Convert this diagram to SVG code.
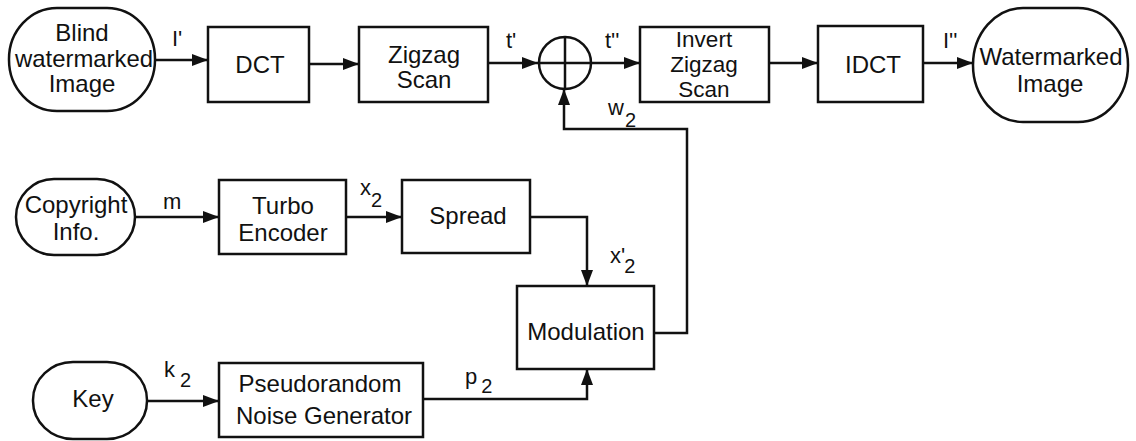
<svg xmlns="http://www.w3.org/2000/svg" width="1136" height="441" viewBox="0 0 1136 441">
<defs>
<marker id="ah" markerWidth="16" markerHeight="12" refX="16" refY="6" orient="auto" markerUnits="userSpaceOnUse">
<path d="M0,0 L16,6 L0,12 Z" fill="#111"/>
</marker>
<style>
.box{fill:#fff;stroke:#111;stroke-width:2.5}
.t{font-family:"Liberation Sans",Arial,sans-serif;font-size:24px;fill:#111;text-anchor:middle}
.tt{font-size:22.5px}
.l{font-family:"Liberation Sans",Arial,sans-serif;font-size:22px;fill:#111}
.s{font-size:20px}
.c{fill:none;stroke:#111;stroke-width:2.5}
</style>
</defs>
<rect width="1136" height="441" fill="#fff"/>
<g id="connectors">
<line class="c" x1="155" y1="60" x2="208" y2="60" marker-end="url(#ah)"/>
<line class="c" x1="309" y1="64" x2="359" y2="64" marker-end="url(#ah)"/>
<line class="c" x1="488" y1="63" x2="538" y2="63" marker-end="url(#ah)"/>
<line class="c" x1="591" y1="63" x2="640" y2="63" marker-end="url(#ah)"/>
<line class="c" x1="769" y1="63" x2="818" y2="63" marker-end="url(#ah)"/>
<line class="c" x1="923" y1="63" x2="973" y2="63" marker-end="url(#ah)"/>
<polyline class="c" points="654,333 687,333 687,129 564,129 564,89" marker-end="url(#ah)"/>
<line class="c" x1="135" y1="217" x2="219" y2="217" marker-end="url(#ah)"/>
<line class="c" x1="346" y1="217" x2="402" y2="217" marker-end="url(#ah)"/>
<polyline class="c" points="530,217 587,217 587,286" marker-end="url(#ah)"/>
<line class="c" x1="147" y1="401" x2="219" y2="401" marker-end="url(#ah)"/>
<polyline class="c" points="423,399 587,399 587,369" marker-end="url(#ah)"/>
<text class="l" x="172" y="46">I'</text>
<text class="l" x="506" y="48">t'</text>
<text class="l" x="605" y="48">t''</text>
<text class="l" x="943" y="48">I''</text>
<text class="l" x="608" y="115">w<tspan class="s" dx="1" dy="12">2</tspan></text>
<text class="l" x="163" y="209">m</text>
<text class="l" x="360" y="195">x<tspan class="s" dx="0" dy="12">2</tspan></text>
<text class="l" x="610" y="263">x'<tspan class="s" dx="-1" dy="10">2</tspan></text>
<text class="l" x="164" y="377">k<tspan class="s" dx="5" dy="10">2</tspan></text>
<text class="l" x="465" y="384">p<tspan class="s" dx="4" dy="9">2</tspan></text>
</g>
<g id="blind">
<rect class="box" x="9" y="8" width="146" height="103" rx="48" ry="51"/>
<text class="t" x="82" y="41">Blind<tspan x="84" dy="26" textLength="138" lengthAdjust="spacingAndGlyphs">watermarked</tspan><tspan x="82" dy="25">Image</tspan></text>
</g>
<g id="dct">
<rect class="box" x="208" y="27" width="101" height="75"/>
<text class="t" x="260" y="73">DCT</text>
</g>
<g id="zigzag">
<rect class="box" x="359" y="27" width="129" height="75"/>
<text class="t" x="424" y="63">Zigzag<tspan x="424" dy="25">Scan</tspan></text>
</g>
<g id="adder">
<circle class="box" cx="565" cy="63" r="26"/>
<line class="c" x1="539" y1="63" x2="591" y2="63"/>
<line class="c" x1="565" y1="37" x2="565" y2="89"/>
</g>
<g id="invert">
<rect class="box" x="640" y="27" width="129" height="75"/>
<text class="t tt" x="704" y="47">Invert<tspan x="704" dy="25">Zigzag</tspan><tspan x="704" dy="25">Scan</tspan></text>
</g>
<g id="idct">
<rect class="box" x="818" y="26" width="105" height="76"/>
<text class="t" x="873" y="73">IDCT</text>
</g>
<g id="watermarked">
<rect class="box" x="973" y="8" width="155" height="114" rx="50" ry="57"/>
<text class="t" x="1051" y="65">Watermarked<tspan x="1050" dy="27">Image</tspan></text>
</g>
<g id="copyright">
<rect class="box" x="16" y="179" width="119" height="76" rx="38" ry="38"/>
<text class="t" x="76" y="213">Copyright<tspan x="76" dy="27">Info.</tspan></text>
</g>
<g id="turbo">
<rect class="box" x="219" y="180" width="127" height="74"/>
<text class="t" x="283" y="214">Turbo<tspan x="283" dy="27">Encoder</tspan></text>
</g>
<g id="spread">
<rect class="box" x="402" y="180" width="128" height="73"/>
<text class="t" x="468" y="224">Spread</text>
</g>
<g id="modulation">
<rect class="box" x="517" y="286" width="137" height="83"/>
<text class="t" x="586" y="340">Modulation</text>
</g>
<g id="key">
<rect class="box" x="33" y="362" width="114" height="77" rx="40" ry="38"/>
<text class="t" x="93" y="407">Key</text>
</g>
<g id="pseudorandom">
<rect class="box" x="219" y="363" width="204" height="74"/>
<text class="t" x="320" y="392">Pseudorandom<tspan x="324" dy="32">Noise Generator</tspan></text>
</g>
</svg>
